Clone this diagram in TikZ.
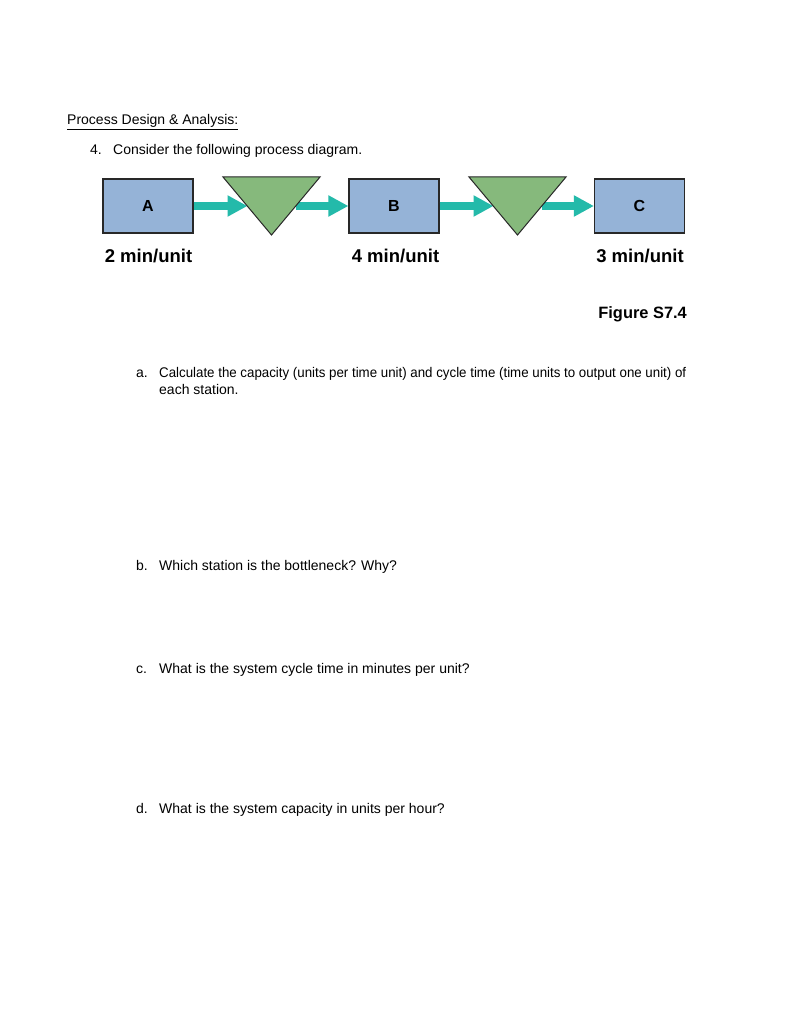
\documentclass[tikz,border=0pt]{standalone}
\usepackage{fontspec}
\setmainfont{Liberation Sans}
\usepackage{graphicx}
\usetikzlibrary{arrows.meta}
\definecolor{boxblue}{RGB}{149,179,215}
\definecolor{trigreen}{RGB}{134,185,124}
\definecolor{arrteal}{RGB}{36,186,170}
\definecolor{edgegray}{RGB}{40,40,40}
\tikzset{
  station/.style={draw=edgegray, line width=1.2pt, fill=boxblue, minimum width=90pt, minimum height=54pt, inner sep=0pt, font=\fontsize{16}{18}\selectfont\bfseries},
  buffer/.style={draw=edgegray, line width=1pt, fill=trigreen, line join=miter},
  flow/.style={draw=arrteal, line width=8pt, -{Triangle[length=20pt,width=20pt]}},
  body/.style={anchor=base west, inner sep=0pt, font=\fontsize{14}{16}\selectfont},
  rate/.style={anchor=base, inner sep=0pt, font=\fontsize{18.5}{21}\selectfont\bfseries},
  figlabel/.style={anchor=base east, inner sep=0pt, font=\fontsize{16.4}{19}\selectfont\bfseries},
}
\begin{document}
\begin{tikzpicture}[x=1pt,y=-1pt]
\useasboundingbox[fill=white] (0,0) rectangle (791,1024);

% heading text
\node[body] (head) at (67,125) {\underline{Process Design \& Analysis:}};
\node[body] (q4num) at (90,155) {4.};
\node[body] (q4) at (113,155) {Consider the following process diagram.};

% stations
\node[station] (A) at (148,206) {A};
\node[station] (B) at (394,206) {B};
\node[station] (C) at (639.5,206) {C};

% buffer triangle coordinates
\coordinate (t1l) at (223,177);
\coordinate (t1r) at (320,177);
\coordinate (t1b) at (271.5,235);
\coordinate (t1in) at (247.5,206);
\coordinate (t1out) at (295.5,206);
\coordinate (t2l) at (469,177);
\coordinate (t2r) at (566,177);
\coordinate (t2b) at (517.5,235);
\coordinate (t2in) at (493.5,206);
\coordinate (t2out) at (541.5,206);

% flow arrows
\draw[flow] (A.east) -- (t1in);
\draw[flow] (t1out) -- (B.west);
\draw[flow] (B.east) -- (t2in);
\draw[flow] (t2out) -- (C.west);

% buffers
\draw[buffer] (t1l) -- (t1r) -- (t1b) -- cycle;
\draw[buffer] (t2l) -- (t2r) -- (t2b) -- cycle;

% rates
\node[rate] (rA) at (148.5,262) {2 min/unit};
\node[rate] (rB) at (395.5,262) {4 min/unit};
\node[rate] (rC) at (640,262) {3 min/unit};
\node[figlabel] (fig) at (687,318) {Figure S7.4};

% questions
\node[body] (qa) at (136,377) {a.};
\node[body] (qatext) at (159,377) {\resizebox{527pt}{\height}{Calculate the capacity (units per time unit) and cycle time (time units to output one unit) of}};
\node[body] (qa2) at (159,394) {each station.};
\node[body] (qb) at (136,570) {b.};
\node[body] (qbtext) at (159,570) {Which station is the bottleneck? Why?};
\node[body] (qc) at (136,673) {c.};
\node[body] (qctext) at (159,673) {What is the system cycle time in minutes per unit?};
\node[body] (qd) at (136,813) {d.};
\node[body] (qdtext) at (159,813) {What is the system capacity in units per hour?};
\end{tikzpicture}
\end{document}
